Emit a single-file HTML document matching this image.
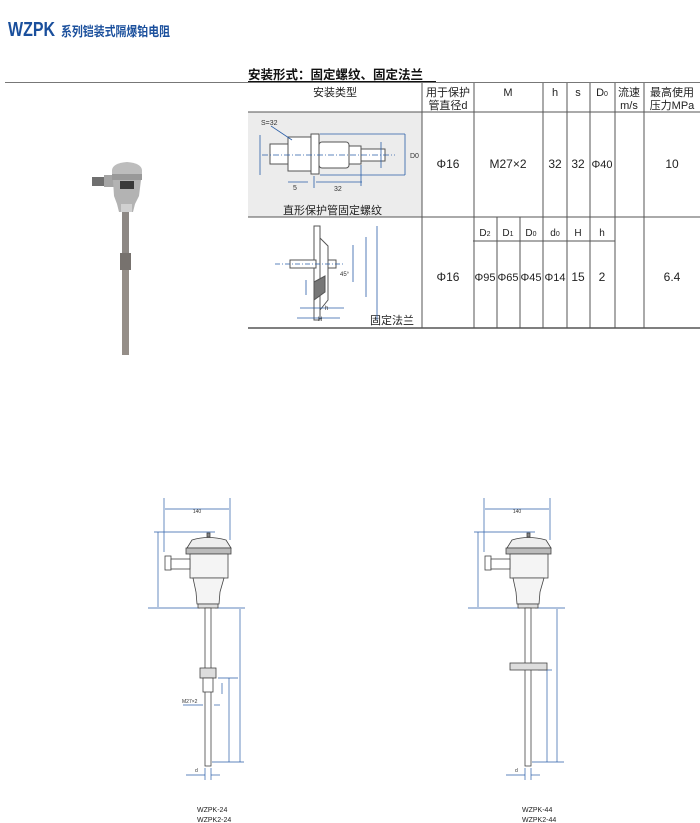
<!DOCTYPE html>
<html><head><meta charset="utf-8"><style>
body{margin:0;background:#fff;}
svg{display:block;font-family:"Liberation Sans","Noto Sans CJK SC",sans-serif;}
</style></head><body>
<svg width="700" height="823" viewBox="0 0 700 823" xmlns="http://www.w3.org/2000/svg">
<!-- title -->
<text x="8" y="36" font-size="20" font-weight="bold" fill="#1a4f9c" textLength="47" lengthAdjust="spacingAndGlyphs">WZPK</text>
<text x="61" y="36" font-size="13" font-weight="bold" fill="#1a4f9c" textLength="109" lengthAdjust="spacingAndGlyphs">系列铠装式隔爆铂电阻</text>
<text x="248" y="79" font-size="12.5" font-weight="bold" fill="#111">安装形式：固定螺纹、固定法兰</text>
<line x1="248" y1="81.5" x2="436" y2="81.5" stroke="#111" stroke-width="1"/>
<line x1="5" y1="82.5" x2="700" y2="82.5" stroke="#777" stroke-width="1"/>

<!-- table -->
<rect x="248" y="112" width="174" height="105" fill="#ececec"/>
<g stroke="#555" stroke-width="1" fill="none">
<line x1="248" y1="112" x2="700" y2="112"/>
<line x1="248" y1="217" x2="700" y2="217"/>
<line x1="248" y1="328" x2="700" y2="328" stroke-width="1.5"/>
<line x1="473" y1="241" x2="615" y2="241"/>
<line x1="422" y1="83" x2="422" y2="328"/>
<line x1="474" y1="83" x2="474" y2="328"/>
<line x1="543" y1="83" x2="543" y2="217"/>
<line x1="567" y1="83" x2="567" y2="328"/>
<line x1="590" y1="83" x2="590" y2="328"/>
<line x1="615" y1="83" x2="615" y2="328"/>
<line x1="644" y1="83" x2="644" y2="328"/>
<line x1="497" y1="217" x2="497" y2="328"/>
<line x1="520" y1="217" x2="520" y2="328"/>
<line x1="543" y1="217" x2="543" y2="328"/>
</g>
<g font-size="11" fill="#222" text-anchor="middle">
<text x="335" y="96">安装类型</text>
<text x="448" y="96">用于保护</text>
<text x="448" y="109">管直径d</text>
<text x="508" y="96">M</text>
<text x="555" y="96">h</text>
<text x="578" y="96">s</text>
<text x="602" y="96">D<tspan font-size="7">0</tspan></text>
<text x="629" y="96">流速</text>
<text x="629" y="109">m/s</text>
<text x="672" y="96">最高使用</text>
<text x="672" y="109">压力MPa</text>
</g>
<g font-size="12" fill="#222" text-anchor="middle">
<text x="448" y="168">Φ16</text>
<text x="508" y="168">M27×2</text>
<text x="555" y="168">32</text>
<text x="578" y="168">32</text>
<text x="602" y="168" font-size="11">Φ40</text>
<text x="672" y="168">10</text>
<text x="448" y="281">Φ16</text>
<text x="485" y="281" font-size="11">Φ95</text>
<text x="508" y="281" font-size="11">Φ65</text>
<text x="531" y="281" font-size="11">Φ45</text>
<text x="555" y="281" font-size="11">Φ14</text>
<text x="578" y="281">15</text>
<text x="602" y="281">2</text>
<text x="672" y="281">6.4</text>
<text x="485" y="236" font-size="10">D<tspan font-size="7">2</tspan></text>
<text x="508" y="236" font-size="10">D<tspan font-size="7">1</tspan></text>
<text x="531" y="236" font-size="10">D<tspan font-size="7">0</tspan></text>
<text x="555" y="236" font-size="10">d<tspan font-size="7">0</tspan></text>
<text x="578" y="236" font-size="10">H</text>
<text x="602" y="236" font-size="10">h</text>
</g>
<text x="283" y="214" font-size="11" fill="#222">直形保护管固定螺纹</text>
<text x="370" y="324" font-size="11" fill="#222">固定法兰</text>

<!-- row1 drawing -->
<g stroke="#555" stroke-width="1" fill="#fff">
<rect x="270" y="144" width="20" height="20"/>
<path d="M288 137 L312 137 L312 171 L288 171 Z"/>
<rect x="311" y="134" width="8" height="40"/>
<rect x="319" y="142" width="30" height="26" rx="3"/>
<rect x="349" y="146" width="12" height="18"/>
<rect x="361" y="149" width="24" height="12"/>
</g>
<g stroke="#2a5ea8" stroke-width="0.8" fill="none">
<line x1="262" y1="155" x2="395" y2="155" stroke-dasharray="6,2,1,2"/>
<line x1="260" y1="135" x2="260" y2="175"/>
<line x1="320" y1="134" x2="405" y2="134"/><line x1="320" y1="175" x2="405" y2="175"/>
<line x1="405" y1="134" x2="405" y2="175"/>
<line x1="381" y1="142" x2="381" y2="168"/>
<line x1="288" y1="182" x2="308" y2="182"/><line x1="316" y1="182" x2="362" y2="182"/>
<line x1="314" y1="176" x2="314" y2="188"/><line x1="361" y1="165" x2="361" y2="186"/>
<line x1="271" y1="126" x2="292" y2="140"/>
</g>
<g font-size="7" fill="#333">
<text x="261" y="125">S=32</text>
<text x="334" y="191">32</text>
<text x="293" y="190">5</text>
<text x="410" y="158">D0</text>
</g>

<!-- row2 drawing -->
<g stroke="#555" stroke-width="1" fill="#fff">
<rect x="314" y="226" width="6" height="94"/>
<path d="M320 238 L328 246 L328 300 L320 310 Z"/>
<rect x="290" y="260" width="26" height="8"/>
<rect x="328" y="260" width="8" height="8"/>
<path d="M314 282 L325 276 L325 292 L314 300 Z" fill="#777"/>
</g>
<g stroke="#2a5ea8" stroke-width="0.8" fill="none">
<line x1="275" y1="264" x2="345" y2="264" stroke-dasharray="5,2,1,2"/>
<line x1="377" y1="226" x2="377" y2="320"/>
<line x1="353" y1="245" x2="353" y2="282"/>
<line x1="366" y1="237" x2="366" y2="297"/>
<line x1="300" y1="308" x2="344" y2="308"/>
<line x1="297" y1="318" x2="340" y2="318"/>
<line x1="306" y1="280" x2="306" y2="295"/>
</g>
<g font-size="6" fill="#333"><text x="325" y="310">h</text><text x="318" y="321">H</text><text x="340" y="276">45°</text></g>

<!-- photo -->
<g>
<rect x="92" y="177" width="12" height="9" fill="#6f6f6f"/>
<rect x="104" y="175" width="10" height="12" fill="#a5a5a5"/>
<path d="M112 170 Q113 163 127 162 Q141 163 142 170 L142 176 L112 176 Z" fill="#bdbdbd"/>
<rect x="112" y="174" width="30" height="6" fill="#999"/>
<path d="M113 180 L141 180 L139 196 L135 204 L133 212 L119 212 L117 204 L114 196 Z" fill="#b3b3b3"/>
<rect x="120" y="181" width="14" height="8" fill="#3a3a3a"/>
<rect x="121" y="204" width="11" height="8" fill="#d0d0d0"/>
<rect x="122" y="212" width="7" height="42" fill="#8d8884"/>
<rect x="120" y="253" width="11" height="17" fill="#77726e"/>
<rect x="122" y="270" width="7" height="85" fill="#958e88"/>
</g>

<!-- bottom left drawing -->
<g>
<g stroke="#2a5ea8" stroke-width="0.7" fill="none">
<line x1="164" y1="498" x2="164" y2="552"/><line x1="230" y1="498" x2="230" y2="540"/>
<line x1="165" y1="509" x2="229" y2="509"/>
<line x1="154" y1="532" x2="215" y2="532"/>
<line x1="158" y1="532" x2="158" y2="607"/>
<line x1="148" y1="608" x2="200" y2="608"/>
<line x1="215" y1="608" x2="245" y2="608"/>
</g>
<g stroke="#444" stroke-width="0.8" fill="#fff">
<path d="M187 548 L192 540 Q208 535 226 540 L231 548 Z" fill="#eee"/>
<rect x="186" y="548" width="45" height="6" fill="#bbb"/>
<rect x="190" y="554" width="38" height="24" fill="#f4f4f4"/>
<rect x="165" y="556" width="6" height="14"/>
<rect x="171" y="559" width="19" height="10"/>
<path d="M193 578 L224 578 L220 592 L219 604 L197 604 L196 592 Z" fill="#f4f4f4"/>
<rect x="198" y="604" width="20" height="4" fill="#ddd"/>
<rect x="205" y="608" width="6" height="158"/>
<rect x="207" y="533" width="3" height="4" fill="#888"/>
</g>
<text x="197" y="513" font-size="5" fill="#333" text-anchor="middle">140</text>
</g>
<g stroke="#444" stroke-width="0.8" fill="#fff">
<rect x="200" y="668" width="16" height="10" fill="#ddd"/>
<rect x="203" y="678" width="10" height="14"/>
</g>
<g stroke="#2a5ea8" stroke-width="0.7" fill="none">
<line x1="229" y1="678" x2="229" y2="762"/><line x1="240" y1="609" x2="240" y2="762"/>
<line x1="218" y1="678" x2="238" y2="678"/><line x1="212" y1="762" x2="244" y2="762"/>
<line x1="222" y1="683" x2="222" y2="694"/>
<line x1="183" y1="705" x2="203" y2="705"/><line x1="214" y1="705" x2="220" y2="705"/>
<line x1="186" y1="775" x2="205" y2="775"/><line x1="211" y1="775" x2="220" y2="775"/>
<line x1="205" y1="768" x2="205" y2="780"/><line x1="211" y1="768" x2="211" y2="780"/>
</g>
<g font-size="5" fill="#333"><text x="182" y="703">M27×2</text><text x="195" y="772">d</text></g>
<text x="197" y="812" font-size="7" fill="#222">WZPK-24</text>
<text x="197" y="822" font-size="7" fill="#222">WZPK2-24</text>

<!-- bottom right drawing -->
<g transform="translate(320,0)">
<g stroke="#2a5ea8" stroke-width="0.7" fill="none">
<line x1="164" y1="498" x2="164" y2="552"/><line x1="230" y1="498" x2="230" y2="540"/>
<line x1="165" y1="509" x2="229" y2="509"/>
<line x1="154" y1="532" x2="215" y2="532"/>
<line x1="158" y1="532" x2="158" y2="607"/>
<line x1="148" y1="608" x2="200" y2="608"/>
<line x1="215" y1="608" x2="245" y2="608"/>
<line x1="227" y1="670" x2="227" y2="762"/><line x1="237" y1="609" x2="237" y2="762"/>
<line x1="218" y1="670" x2="232" y2="670"/><line x1="212" y1="762" x2="244" y2="762"/>
<line x1="186" y1="775" x2="205" y2="775"/><line x1="211" y1="775" x2="220" y2="775"/>
<line x1="205" y1="768" x2="205" y2="780"/><line x1="211" y1="768" x2="211" y2="780"/>
</g>
<g stroke="#444" stroke-width="0.8" fill="#fff">
<path d="M187 548 L192 540 Q208 535 226 540 L231 548 Z" fill="#eee"/>
<rect x="186" y="548" width="45" height="6" fill="#bbb"/>
<rect x="190" y="554" width="38" height="24" fill="#f4f4f4"/>
<rect x="165" y="556" width="6" height="14"/>
<rect x="171" y="559" width="19" height="10"/>
<path d="M193 578 L224 578 L220 592 L219 604 L197 604 L196 592 Z" fill="#f4f4f4"/>
<rect x="198" y="604" width="20" height="4" fill="#ddd"/>
<rect x="205" y="608" width="6" height="158"/>
<rect x="207" y="533" width="3" height="4" fill="#888"/>
<rect x="190" y="663" width="37" height="7" fill="#ddd"/>
</g>
<text x="197" y="513" font-size="5" fill="#333" text-anchor="middle">140</text>
<text x="195" y="772" font-size="5" fill="#333">d</text>
</g>
<text x="522" y="812" font-size="7" fill="#222">WZPK-44</text>
<text x="522" y="822" font-size="7" fill="#222">WZPK2-44</text>
</svg>
</body></html>
